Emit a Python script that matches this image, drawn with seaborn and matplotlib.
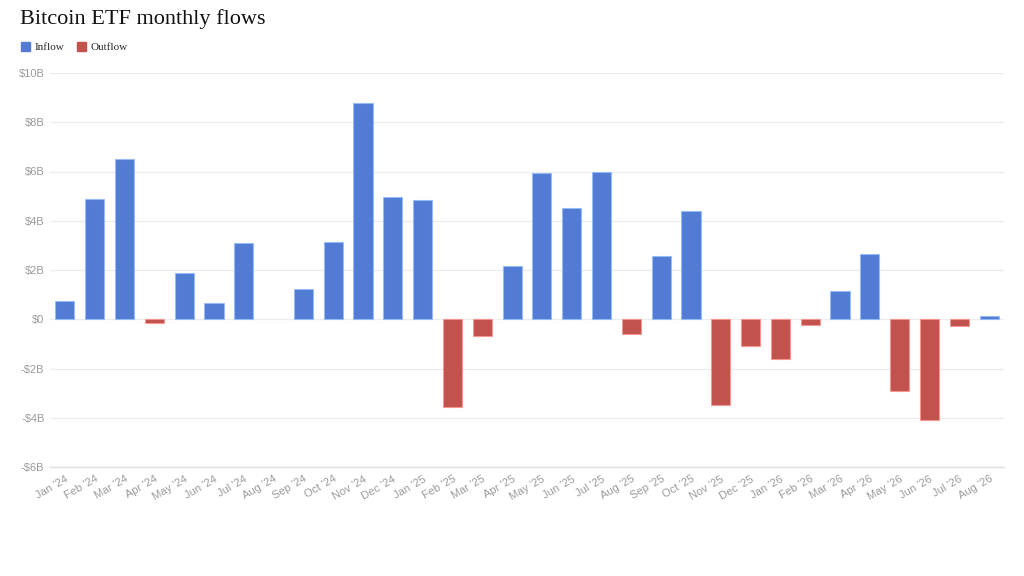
import matplotlib
matplotlib.use("Agg")
import matplotlib.pyplot as plt
import matplotlib.patches as mpatches
import seaborn as sns
import pandas as pd

months = ["Jan '24", "Feb '24", "Mar '24", "Apr '24", "May '24", "Jun '24", "Jul '24", "Aug '24",
          "Sep '24", "Oct '24", "Nov '24", "Dec '24", "Jan '25", "Feb '25", "Mar '25", "Apr '25",
          "May '25", "Jun '25", "Jul '25", "Aug '25", "Sep '25", "Oct '25", "Nov '25", "Dec '25",
          "Jan '26", "Feb '26", "Mar '26", "Apr '26", "May '26", "Jun '26", "Jul '26", "Aug '26"]
flows = [0.76, 4.87, 6.52, -0.14, 1.87, 0.67, 3.08, 0.0,
         1.21, 3.13, 8.80, 4.97, 4.84, -3.56, -0.70, 2.18,
         5.94, 4.50, 5.96, -0.58, 2.58, 4.38, -3.48, -1.08,
         -1.62, -0.22, 1.13, 2.63, -2.91, -4.08, -0.28, 0.15]
y_ticks = [-6, -4, -2, 0, 2, 4, 6, 8, 10]
y_labels = ["-$6B", "-$4B", "-$2B", "$0", "$2B", "$4B", "$6B", "$8B", "$10B"]

blue = "#527bd3"
red = "#c1524e"

df = pd.DataFrame({"month": months, "flow": flows})
df["kind"] = ["Outflow" if v < 0 else "Inflow" for v in flows]

sns.set_style("white")
fig = plt.figure(figsize=(10.24, 5.76), dpi=100)
ax = fig.add_axes([50 / 1024, 1 - 467 / 576, 954 / 1024, 394 / 576])

sns.barplot(data=df, x="month", y="flow", hue="kind", order=months,
            hue_order=["Inflow", "Outflow"], palette={"Inflow": blue, "Outflow": red},
            dodge=False, width=0.64, legend=False, ax=ax, saturation=1,
            edgecolor="none", linewidth=0)

# light edge on bars
for p in ax.patches:
    if abs(p.get_height()) > 0:
        fc = p.get_facecolor()
        p.set_edgecolor((min(fc[0] + 0.25, 1), min(fc[1] + 0.25, 1), min(fc[2] + 0.25, 1), 0.8))
        p.set_linewidth(0.8)

ax.set_ylim(-6, 10)
ax.set_xlim(-0.5, len(months) - 0.5)
ax.set_yticks(y_ticks)
ax.set_yticklabels(y_labels, fontsize=8, color="#9a9a9a", family="Liberation Sans")
ax.set_xticks(range(len(months)))
ax.set_xticklabels(months, rotation=30, ha="right", rotation_mode="anchor",
                   fontsize=8, color="#9a9a9a", family="Liberation Sans")
ax.tick_params(axis="both", length=0, pad=4)
ax.tick_params(axis="x", pad=5)
ax.set_xlabel("")
ax.set_ylabel("")
ax.grid(axis="y", color="#ececec", linewidth=0.9)
ax.set_axisbelow(True)
for s in ["top", "right", "left"]:
    ax.spines[s].set_visible(False)
ax.spines["bottom"].set_color("#e0e0e0")
ax.spines["bottom"].set_linewidth(1.0)

fig.text(20 / 1024, 1 - 19 / 576, "Bitcoin ETF monthly flows", fontsize=16,
         family="Liberation Serif", color="#111111", va="center", ha="left")

handles = [mpatches.Patch(color=blue, label="Inflow"), mpatches.Patch(color=red, label="Outflow")]
fig.legend(handles=handles, loc="upper left", bbox_to_anchor=(17 / 1024, 1 - 38 / 576),
           ncol=2, frameon=False, prop={"family": "Liberation Serif", "size": 8},
           handlelength=0.75, handleheight=0.75, handletextpad=0.4, columnspacing=1.2,
           borderaxespad=0)

fig.savefig("out.png", dpi=100, facecolor="white")
